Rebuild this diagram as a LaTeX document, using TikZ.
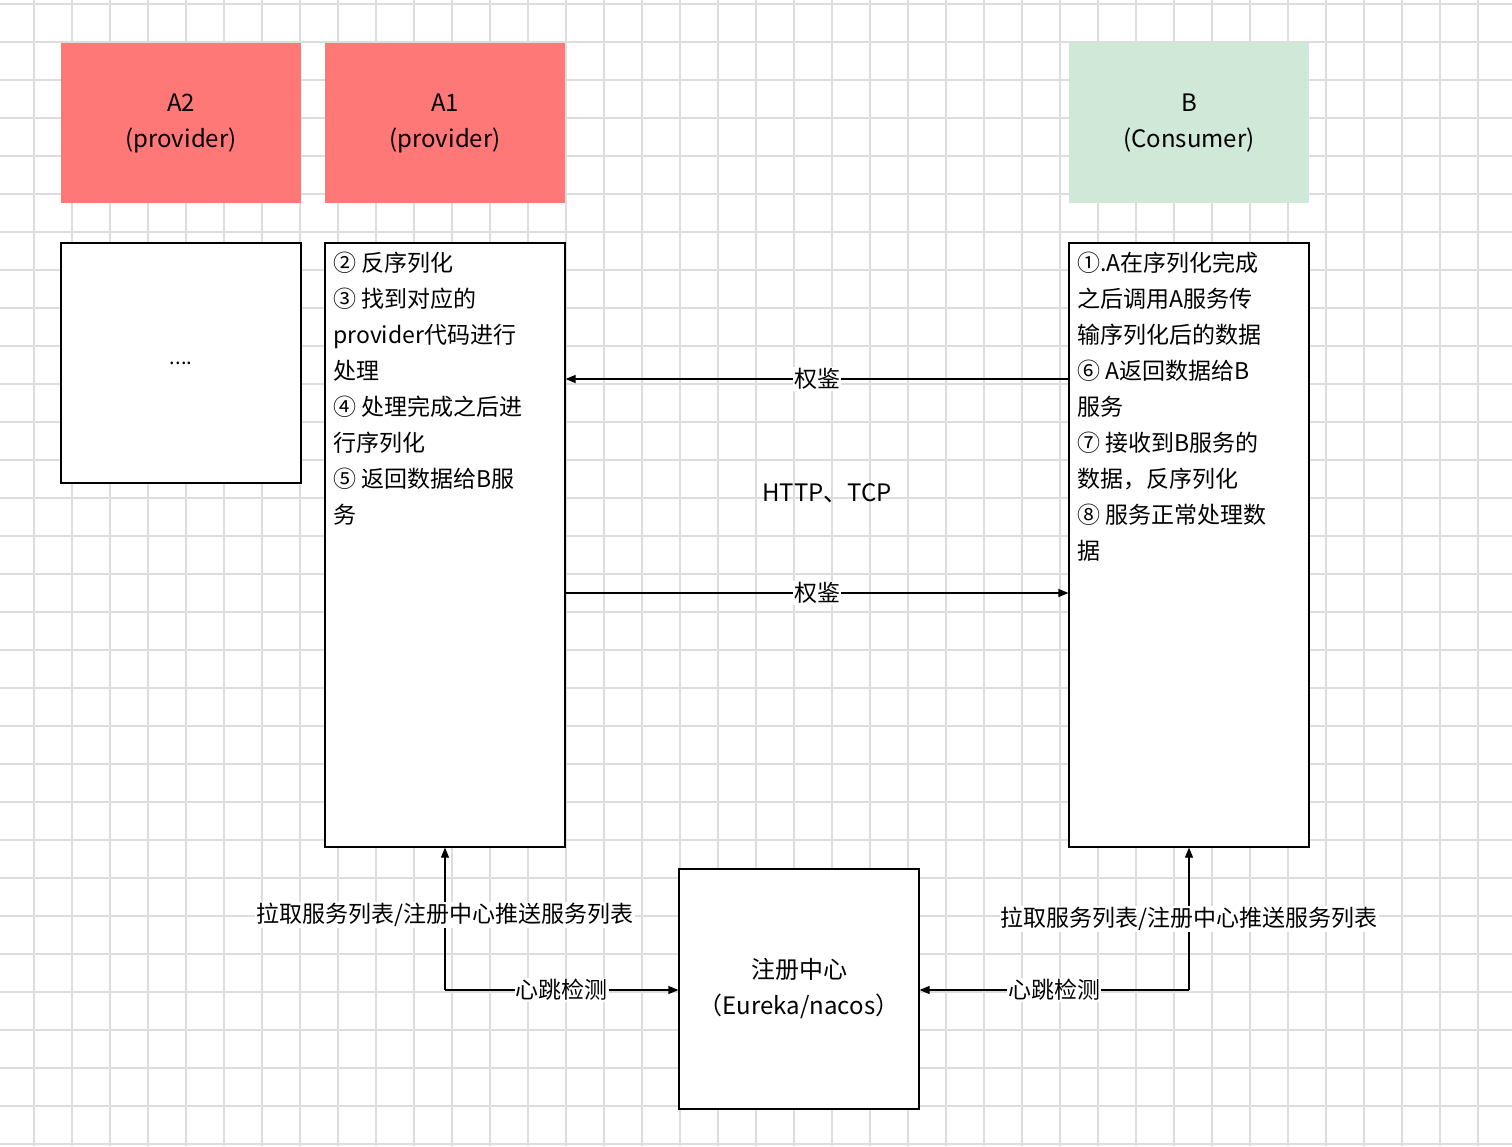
\documentclass[tikz,border=0pt]{standalone}
\usepackage{fontspec}
\setmainfont{Noto Sans CJK SC}
\usetikzlibrary{arrows.meta}
\definecolor{red1}{HTML}{FF7878}
\definecolor{grn1}{HTML}{CFE8D8}
\definecolor{gridc}{HTML}{DDDDDD}
\begin{document}
\begin{tikzpicture}[x=1pt,y=-1pt,
  box/.style={draw=black,line width=1.2pt,inner sep=0pt},
  head/.style={inner sep=0pt,minimum width=240pt,minimum height=160pt,align=center,font=\fontsize{24}{36}\selectfont},
  txt/.style={anchor=north west,align=left,inner sep=0pt,font=\fontsize{23}{36}\selectfont},
  lbl/.style={fill=white,inner sep=1pt,font=\fontsize{23}{28}\selectfont},
  arr/.style={-{Triangle[length=10pt,width=8pt]},line width=1.2pt}]
\useasboundingbox (0,0) rectangle (1512,1146);
\fill[white] (0,0) rectangle (1512,1146);
\foreach \x in {34,72,...,1512} \draw[gridc,line width=1.5pt] (\x,0) -- (\x,1146);
\foreach \y in {4,42,...,1146} \draw[gridc,line width=1.5pt] (0,\y) -- (1512,\y);
\node[head,fill=red1] (a2) at (181,123) {A2\\(provider)};
\node[head,fill=red1] (a1) at (445,123) {A1\\(provider)};
\node[head,fill=grn1] (b) at (1189,123) {B\\(Consumer)};
\node[box,fill=white,minimum width=240pt,minimum height=240pt] (a2b) at (181,363) {\fontsize{20}{24}\selectfont ....};
\node[box,fill=white,minimum width=240pt,minimum height=604pt] (a1b) at (445,545) {};
\node[box,fill=white,minimum width=240pt,minimum height=604pt] (bb) at (1189,545) {};
\node[box,fill=white,minimum width=240pt,minimum height=240pt,align=center,font=\fontsize{24}{36}\selectfont] (reg) at (799,989) {注册中心\\（Eureka/nacos）};
\node[txt] (t1) at (333,252) {② 反序列化\\③ 找到对应的\\provider代码进行\\处理\\④ 处理完成之后进\\行序列化\\⑤ 返回数据给B服\\务};
\node[txt] (t2) at (1077,252) {①.A在序列化完成\\之后调用A服务传\\输序列化后的数据\\⑥ A返回数据给B\\服务\\⑦ 接收到B服务的\\数据，反序列化\\⑧ 服务正常处理数\\据};
\draw[arr] (bb.west |- 0,379) -- node[lbl]{权鉴} (a1b.east |- 0,379);
\draw[arr] (a1b.east |- 0,593) -- node[lbl]{权鉴} (bb.west |- 0,593);
\node[font=\fontsize{24}{30}\selectfont] (http) at (827,493) {HTTP、TCP};
\coordinate (lc) at (445,990);
\coordinate (rc) at (1189,990);
\draw[arr] (lc) -- (a1b.south);
\draw[arr] (lc) -- node[lbl]{心跳检测} (reg.west |- lc);
\draw[arr] (rc) -- (bb.south);
\draw[arr] (rc) -- node[lbl]{心跳检测} (reg.east |- rc);
\node[lbl] (l1) at (445,915) {拉取服务列表/注册中心推送服务列表};
\node[lbl] (l2) at (1189,919) {拉取服务列表/注册中心推送服务列表};
\end{tikzpicture}
\end{document}
